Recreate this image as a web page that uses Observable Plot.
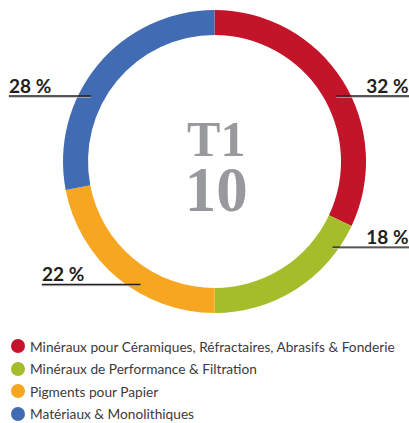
<!DOCTYPE html>
<html>
<head>
<meta charset="utf-8">
<script src="https://cdn.jsdelivr.net/npm/d3@7"></script>
<script src="https://cdn.jsdelivr.net/npm/@observablehq/plot@0.6"></script>
<style>
  html, body { margin: 0; padding: 0; background: #fff; }
  #chart svg { display: block; }
  .legend { margin: 0; padding: 0 0 0 11px; font-family: Lato, sans-serif; font-size: 13.7px; color: #3b3b3d; }
  .legend .row { display: flex; align-items: center; height: 22.5px; }
  .legend .dot { width: 14px; height: 14px; border-radius: 50%; margin-right: 5px; flex: none; }
</style>
</head>
<body>
<div id="chart"></div>
<script>
// ---- data ----
const categories = [
  "Minéraux pour Céramiques, Réfractaires, Abrasifs & Fonderie",
  "Minéraux de Performance & Filtration",
  "Pigments pour Papier",
  "Matériaux & Monolithiques"
];
const shares = [32, 18, 22, 28];
const shareLabels = ["32 %", "18 %", "22 %", "28 %"];
const colors = ["#c4142a", "#a5bc2b", "#f6a620", "#416bb3"];
const centerLines = ["T1", "10"];

// ---- layout (pixel offsets from the ring centre) ----
const outerR = 151.5, innerR = 126.5;
const lineY      = [-66, 85.2, 122.5, -66];
const lineInner  = [121.5, 117.5, -74.5, -123.8];
const lineOuter  = [194.5, 194.5, -173.2, -206.2];
const labelAnchor = ["end", "end", "start", "start"];
const centerY = [-6.5, 48.5];
const centerSize = [50, 63];

const W = 409, H = 335;
const slices = categories.map((c, i) => ({cat: c, value: shares[i], color: colors[i]}));
const labels = shares.map((v, i) => ({
  text: shareLabels[i], y: lineY[i], x1: lineInner[i], x2: lineOuter[i],
  tx: labelAnchor[i] === "end" ? lineOuter[i] - 1 : lineOuter[i] + 0.3,
  anchor: labelAnchor[i]
}));

function ringMark(index, scales) {
  const cx = scales.x(0), cy = scales.y(0);
  const k = scales.x(1) - scales.x(0);
  const arcs = d3.pie().sort(null).value(d => d.value)(slices);
  const arc = d3.arc().innerRadius(innerR * k).outerRadius(outerR * k);
  const g = d3.create("svg:g").attr("transform", `translate(${cx},${cy})`);
  g.selectAll("path").data(arcs).join("path")
    .attr("d", arc).attr("fill", d => d.data.color);
  return g.node();
}

const plot = Plot.plot({
  width: W, height: H,
  margin: 0,
  x: {domain: [-214.5, 194.5], range: [0, W], axis: null},
  y: {domain: [-161.5, 173.5], range: [0, H], axis: null},
  marks: [
    ringMark,
    Plot.link(labels, {x1: "x1", x2: "x2", y1: d => d.y + 1.2, y2: d => d.y + 1.2, stroke: "#b9b9b9", strokeWidth: 1}),
    Plot.link(labels, {x1: "x1", x2: "x2", y1: "y", y2: "y", stroke: "#231f20", strokeWidth: 1.3}),
    Plot.text(labels.filter(d => d.anchor === "end"), {x: "tx", y: d => d.y - 3.2, text: "text", textAnchor: "end", lineAnchor: "bottom", fontSize: 19, fontWeight: "bold", fontFamily: "Lato", fill: "#231f20"}),
    Plot.text(labels.filter(d => d.anchor === "start"), {x: "tx", y: d => d.y - 3.2, text: "text", textAnchor: "start", lineAnchor: "bottom", fontSize: 19, fontWeight: "bold", fontFamily: "Lato", fill: "#231f20"}),
    Plot.text(centerLines.map((t, i) => ({t, y: centerY[i], s: centerSize[i]})), {x: () => 1.2, y: "y", text: "t", fontSize: d => d.s, lineAnchor: "bottom", fontWeight: "bold", fontFamily: "Liberation Serif", fill: "#98999d"})
  ]
});
document.getElementById("chart").appendChild(plot);

// legend
const legend = d3.select("body").append("div").attr("class", "legend");
const rows = legend.selectAll("div").data(slices).join("div").attr("class", "row");
rows.append("span").attr("class", "dot").style("background", d => d.color);
rows.append("span").text(d => d.cat);
</script>
</body>
</html>
